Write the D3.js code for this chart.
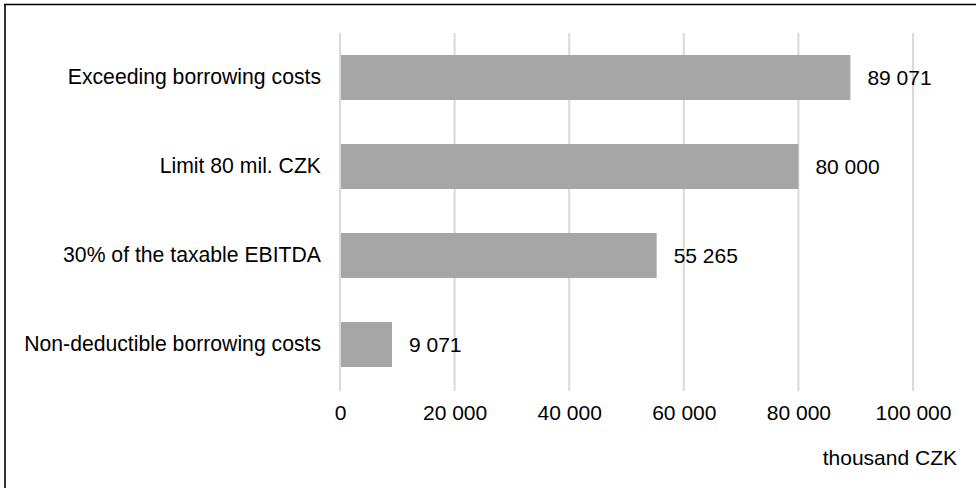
<!DOCTYPE html>
<html>
<head>
<meta charset="utf-8">
<script src="https://cdn.jsdelivr.net/npm/d3@7"></script>
<style>
  html, body { margin: 0; padding: 0; background: #fff; }
  svg { display: block; font-family: "Liberation Sans", Arial, sans-serif; }
</style>
</head>
<body>
<svg id="chart" width="976" height="488"></svg>
<script>
const categories = [
  "Exceeding borrowing costs",
  "Limit 80 mil. CZK",
  "30% of the taxable EBITDA",
  "Non-deductible borrowing costs"
];
const values = [89071, 80000, 55265, 9071];
const tickValues = [0, 20000, 40000, 60000, 80000, 100000];
const unitLabel = "thousand CZK";

const svg = d3.select("#chart");
const fontSize = 21;
const fmt = v => d3.format(",")(v).replace(/,/g, " ");

// frame (cropped border of original figure)
svg.append("line").attr("x1", 5).attr("x2", 5).attr("y1", 4).attr("y2", 488)
  .attr("stroke", "#333").attr("stroke-width", 2);
svg.append("line").attr("x1", 4).attr("x2", 976).attr("y1", 4.5).attr("y2", 4.5)
  .attr("stroke", "#000").attr("stroke-width", 1.5);

const plotTop = 33, plotBottom = 389;
const x = d3.scaleLinear().domain([0, 100000]).range([340, 913]);
const y = d3.scaleBand().domain(categories).range([plotTop, plotBottom])
  .paddingInner(0.494).paddingOuter(0.247);

// gridlines
svg.append("g").selectAll("line").data(tickValues).join("line")
  .attr("x1", d => x(d)).attr("x2", d => x(d))
  .attr("y1", plotTop).attr("y2", plotBottom + 2)
  .attr("stroke", "#d9d9d9").attr("stroke-width", 2);

// bars
svg.append("g").selectAll("rect").data(values).join("rect")
  .attr("x", x(0) + 1)
  .attr("y", (d, i) => y(categories[i]))
  .attr("width", d => x(d) - x(0) - 1)
  .attr("height", y.bandwidth())
  .attr("fill", "#a6a6a6");

// value labels
svg.append("g").selectAll("text").data(values).join("text")
  .attr("x", d => x(d) + 17)
  .attr("y", (d, i) => y(categories[i]) + y.bandwidth() / 2)
  .attr("dy", "0.35em")
  .attr("font-size", fontSize).attr("fill", "#000")
  .text(d => fmt(d));

// category labels
const yAxis = d3.axisLeft(y).tickSize(0).tickPadding(19);
const gy = svg.append("g").attr("transform", `translate(${x(0)},0)`).call(yAxis);
gy.select(".domain").remove();
gy.selectAll("text").attr("font-size", 21.2).attr("fill", "#000")
  .attr("font-family", "'Liberation Sans', Arial, sans-serif");

// x axis tick labels
const xAxis = d3.axisBottom(x).tickValues(tickValues).tickSize(0).tickPadding(0).tickFormat(fmt);
const gx = svg.append("g").attr("transform", `translate(0,405)`).call(xAxis);
gx.select(".domain").remove();
gx.selectAll("text").attr("font-size", fontSize).attr("fill", "#000")
  .attr("font-family", "'Liberation Sans', Arial, sans-serif");

// unit label
svg.append("text").attr("x", 957).attr("y", 465).attr("text-anchor", "end")
  .attr("font-size", fontSize).attr("fill", "#000").text(unitLabel);
</script>
</body>
</html>
